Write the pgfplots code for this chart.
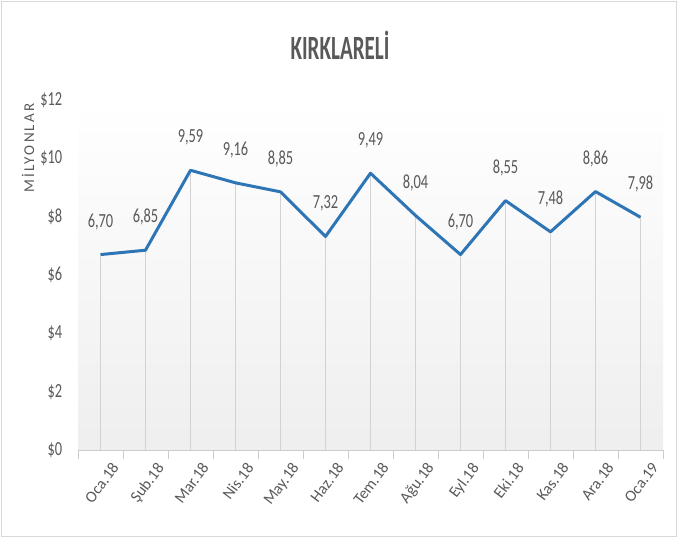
\documentclass[border=0pt]{standalone}
\usepackage{fontspec}
\setmainfont{Carlito}
\newfontfamily\cond[FakeStretch=0.72]{Carlito}
\newfontfamily\titlefont[FakeStretch=0.62]{Carlito}
\newfontfamily\spaced[LetterSpace=15]{Carlito}
\usepackage{pgfplots}
\usepackage{pgfplotstable}
\pgfplotsset{compat=1.18}
\definecolor{txt}{HTML}{595959}
\definecolor{ln}{HTML}{2E75B6}
\pgfplotstableread{
x y
0 6.70
1 6.85
2 9.59
3 9.16
4 8.85
5 7.32
6 9.49
7 8.04
8 6.70
9 8.55
10 7.48
11 8.86
12 7.98
}\data
\begin{document}
\begin{tikzpicture}[x=1pt,y=1pt]
\path[use as bounding box] (0,0) rectangle (678,538);
\draw[gray!30, line width=1pt] (1.5,1.5) rectangle (676.5,536.5);
\node[txt, font=\titlefont\bfseries\fontsize{34}{34}\selectfont] at (340,493) {KIRKLARELİ};
\node[txt, rotate=90, font=\spaced\fontsize{15}{15}\selectfont] at (28,390) {MİLYONLAR};
\begin{axis}[
  at={(78pt,88pt)}, anchor=south west, scale only axis,
  width=585pt, height=350pt,
  xmin=-0.5, xmax=12.5, ymin=0, ymax=12,
  axis x line*=bottom, axis y line*=left,
  x axis line style={gray!40, line width=0.8pt},
  y axis line style={draw=none},
  axis background/.style={top color=white, bottom color=gray!13},
  xtick={0,...,12},
  xticklabels={Oca.18,Şub.18,Mar.18,Nis.18,May.18,Haz.18,Tem.18,Ağu.18,Eyl.18,Eki.18,Kas.18,Ara.18,Oca.19},
  major x tick style={draw=none},
  minor xtick={-0.5,0.5,...,12.5},
  minor x tick style={gray!40, line width=0.8pt},
  minor tick length=9pt,
  tick align=outside,
  x tick label style={rotate=53, anchor=north east, text=txt, font=\fontsize{16}{16}\selectfont, xshift=4pt, yshift=-9pt},
  ytick={0,2,...,12},
  y tick style={draw=none},
  /pgf/number format/assume math mode=true,
  yticklabel={\$\pgfmathprintnumber[fixed,precision=0]{\tick}},
  y tick label style={text=txt, font=\cond\fontsize{20}{20}\selectfont, xshift=-8pt},
  clip=false,
]
\addplot[ycomb, gray!35, line width=0.8pt, mark=none, forget plot] table[x=x,y=y] {\data};
\addplot[ln, line width=3pt, line join=round, mark=none,
  nodes near coords,
  every node near coord/.append style={anchor=center, yshift=33pt, text=txt, font=\cond\fontsize{20}{20}\selectfont,
    /pgf/number format/.cd, fixed, fixed zerofill, precision=2, use comma, assume math mode=true},
] table[x=x,y=y] {\data};
\end{axis}
\end{tikzpicture}
\end{document}
